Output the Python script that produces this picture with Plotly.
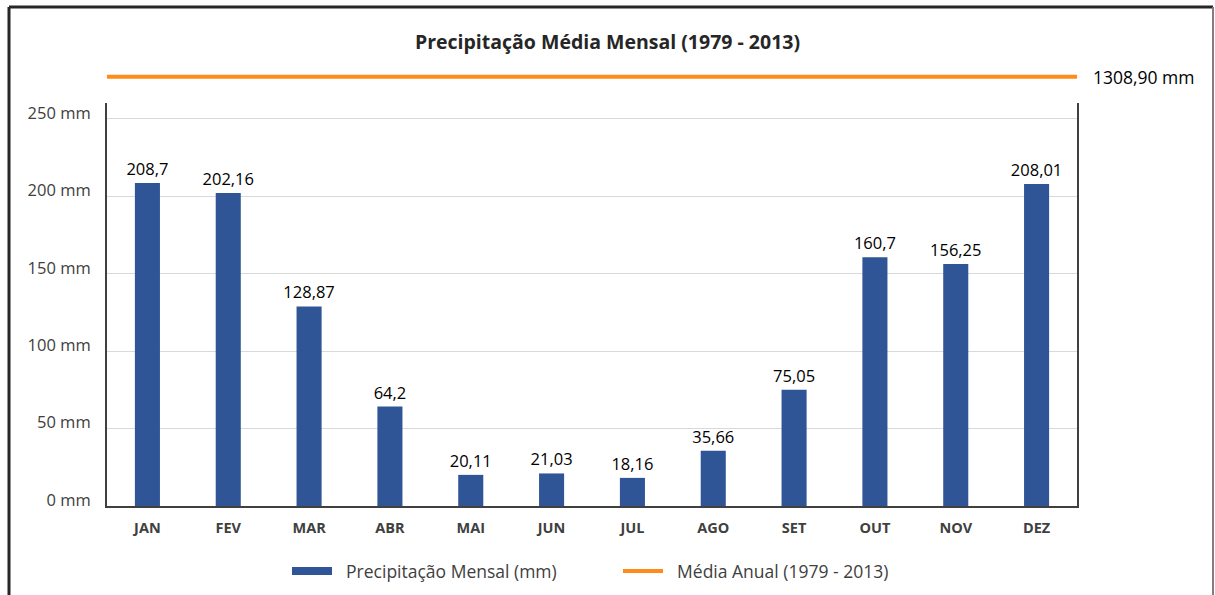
import plotly.graph_objects as go

months = ["JAN", "FEV", "MAR", "ABR", "MAI", "JUN", "JUL", "AGO", "SET", "OUT", "NOV", "DEZ"]
precip = [208.7, 202.16, 128.87, 64.2, 20.11, 21.03, 18.16, 35.66, 75.05, 160.7, 156.25, 208.01]
annual_mean = 1308.90
y_ticks = [0, 50, 100, 150, 200, 250]
y_ticktext = [f"{v} mm" for v in y_ticks]
title_text = "Precipitação Média Mensal (1979 - 2013)"
bar_name = "Precipitação Mensal (mm)"
line_name = "Média Anual (1979 - 2013)"

BLUE = "#2F5597"
ORANGE = "#FF8C1A"
FONT = "Open Sans, sans-serif"

bar_labels = [str(v).replace(".", ",") for v in precip]
mean_label = f"{annual_mean:.2f}".replace(".", ",") + " mm"
PAD = "\u00a0\u00a0"

fig = go.Figure()
fig.add_trace(go.Bar(
    x=months, y=precip, marker_color=BLUE, marker_line_width=0,
    text=bar_labels, textposition="outside", cliponaxis=False, constraintext="none",
    textfont=dict(size=16.5, color="#000000", family=FONT),
    name=bar_name, showlegend=False, hoverinfo="x+y",
))
# legend proxy for bars (wide rectangle swatch)
fig.add_trace(go.Scatter(
    x=[None], y=[None], mode="lines", line=dict(color=BLUE, width=8),
    name=PAD + bar_name, showlegend=True,
))
# annual mean line on its own small axis above the chart
fig.add_trace(go.Scatter(
    x=[0, 1], y=[annual_mean, annual_mean], mode="lines",
    line=dict(color=ORANGE, width=4), xaxis="x2", yaxis="y2",
    name=PAD + line_name, showlegend=True, hoverinfo="skip",
))

fig.update_layout(
    width=1215, height=595,
    margin=dict(l=107, r=138, t=60, b=89, autoexpand=False),
    paper_bgcolor="white", plot_bgcolor="white",
    font=dict(family=FONT, color="#404040"),
    bargap=0.69,
    title=dict(text=f"<b>{title_text}</b>", x=0.5, xanchor="center",
               y=1 - 42 / 595, yanchor="middle", yref="container",
               font=dict(size=19.5, color="#262626", family=FONT)),
    xaxis=dict(showline=True, linecolor="#404040", linewidth=2, ticks="",
               tickfont=dict(size=14.5, color="#404040", family=FONT, weight="bold"),
               ticklabelstandoff=8, showgrid=False, automargin=False),
    yaxis=dict(domain=[0, 403 / 446], range=[0, 260.3], tickvals=y_ticks, ticktext=y_ticktext,
               showline=True, mirror=True, linecolor="#404040", linewidth=2,
               gridcolor="#D9D9D9", gridwidth=1, ticks="", zeroline=False, automargin=False,
               tickfont=dict(size=16.5, color="#404040", family=FONT), ticklabelstandoff=11,
               ticklabelshift=-6),
    xaxis2=dict(anchor="y2", range=[0, 1], visible=False, domain=[0, 1]),
    yaxis2=dict(anchor="x2", domain=[0.95, 0.975], range=[annual_mean - 10, annual_mean + 10],
                visible=False),
    legend=dict(orientation="h", x=(287 - 107) / 970, xanchor="left",
                y=(506 - 571) / 446, yanchor="middle",
                font=dict(size=17.5, color="#404040", family=FONT), itemwidth=40,
                entrywidth=276),
    showlegend=True,
)

fig.add_annotation(x=1, xref="paper", y=annual_mean, yref="y2", text=mean_label,
                   showarrow=False, xanchor="left", xshift=14,
                   font=dict(size=17.5, color="#000000", family=FONT))

# outer frame
fx0 = (9 - 107) / 970
fx1 = (1213 - 107) / 970
fy1 = (506 - 7) / 446
fig.add_shape(type="line", xref="paper", yref="paper", x0=fx0, x1=fx0,
              y0=-0.3, y1=fy1, line=dict(color="#262626", width=3))
fig.add_shape(type="line", xref="paper", yref="paper", x0=fx0, x1=fx1,
              y0=fy1, y1=fy1, line=dict(color="#262626", width=3))
fig.add_shape(type="line", xref="paper", yref="paper", x0=fx1, x1=fx1,
              y0=-0.3, y1=fy1, line=dict(color="#808080", width=2))

fig.write_html("out.html", config={"displayModeBar": False},
               post_script="document.body.style.margin='0';")
